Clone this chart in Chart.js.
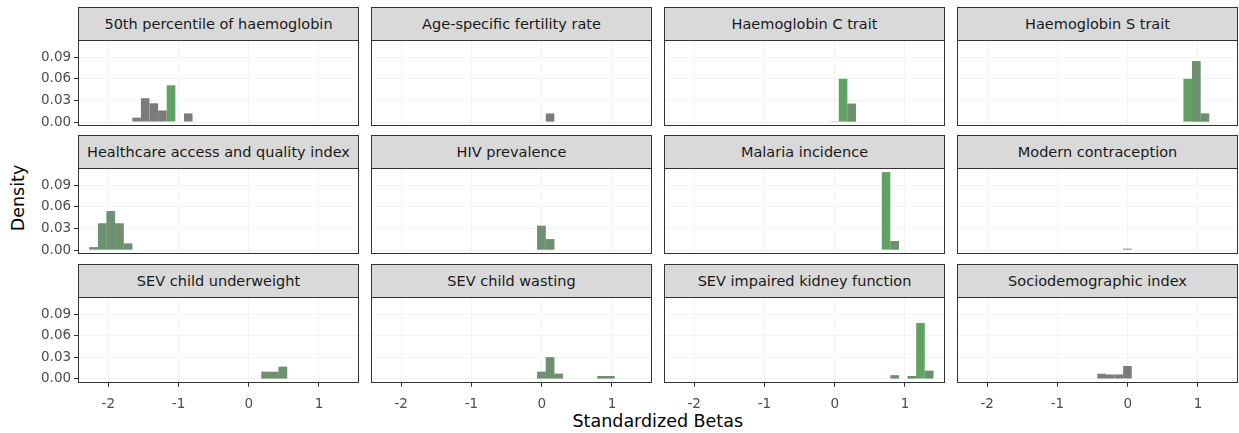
<!DOCTYPE html>
<html><head><meta charset="utf-8">
<script src="https://cdn.jsdelivr.net/npm/chart.js@4.4.0/dist/chart.umd.min.js"></script>
<style>
html,body{margin:0;padding:0;background:#fff;width:1239px;height:433px;overflow:hidden;position:relative;font-family:"DejaVu Sans",sans-serif;}
.strip{position:absolute;box-sizing:border-box;border:1px solid #333;background:#d9d9d9;color:#1a1a1a;font-size:14.5px;text-align:center;white-space:nowrap;display:flex;align-items:center;justify-content:center;}
canvas{position:absolute;}
.title{position:absolute;font-size:17.5px;color:#000;white-space:nowrap;}
</style></head><body>
<div class="title" id="ytitle">Density</div>
<div class="title" id="xtitle">Standardized Betas</div>
<script>
// histogram bin centres (standardized beta)
const binCenters = [-2.209,-2.086,-1.964,-1.841,-1.719,-1.596,-1.474,-1.351,-1.229,-1.106,-0.984,-0.861,-0.739,-0.616,-0.494,-0.371,-0.249,-0.126,-0.004,0.119,0.241,0.364,0.486,0.609,0.731,0.854,0.976,1.099,1.221,1.344,1.466];
const xTickValues = [-2,-1,0,1];
const yTickValues = [0,0.03,0.06,0.09];

const panelTitles = ["50th percentile of haemoglobin","Age-specific fertility rate","Haemoglobin C trait","Haemoglobin S trait","Healthcare access and quality index","HIV prevalence","Malaria incidence","Modern contraception","SEV child underweight","SEV child wasting","SEV impaired kidney function","Sociodemographic index"];

// density per bin, grey group and green group (overlaid)
const hb50Gray  = [0,0,0,0,0, 0.006,0.033,0.026,0.016,0, 0,0.012,0,0,0, 0,0,0,0,0, 0,0,0,0,0, 0,0,0,0,0, 0];
const hb50Green = [0,0,0,0,0, 0,0,0,0,0.051, 0,0,0,0,0, 0,0,0,0,0, 0,0,0,0,0, 0,0,0,0,0, 0];
const asfrGray  = [0,0,0,0,0, 0,0,0,0,0, 0,0,0,0,0, 0,0,0,0,0.012, 0,0,0,0,0, 0,0,0,0,0, 0];
const asfrGreen = [0,0,0,0,0, 0,0,0,0,0, 0,0,0,0,0, 0,0,0,0,0, 0,0,0,0,0, 0,0,0,0,0, 0];
const hbcGray   = [0,0,0,0,0, 0,0,0,0,0, 0,0,0,0,0, 0,0,0,0.001,0, 0.0255,0,0,0,0, 0,0,0,0,0, 0];
const hbcGreen  = [0,0,0,0,0, 0,0,0,0,0, 0,0,0,0,0, 0,0,0,0,0.060, 0.0255,0,0,0,0, 0,0,0,0,0, 0];
const hbsGray   = [0,0,0,0,0, 0,0,0,0,0, 0,0,0,0,0, 0,0,0,0,0, 0,0,0,0,0, 0,0.0845,0.012,0,0, 0];
const hbsGreen  = [0,0,0,0,0, 0,0,0,0,0, 0,0,0,0,0, 0,0,0,0,0, 0,0,0,0,0, 0.060,0.0845,0.012,0,0, 0];
const haqGray   = [0.004,0.037,0.054,0.037,0.009, 0,0,0,0,0, 0,0,0,0,0, 0,0,0,0,0, 0,0,0,0,0, 0,0,0,0,0, 0];
const haqGreen  = [0.004,0.037,0.054,0.037,0.009, 0,0,0,0,0, 0,0,0,0,0, 0,0,0,0,0, 0,0,0,0,0, 0,0,0,0,0, 0];
const hivGray   = [0,0,0,0,0, 0,0,0,0,0, 0,0,0,0,0, 0,0,0,0.0337,0.0152, 0,0,0,0,0, 0,0,0,0,0, 0];
const hivGreen  = [0,0,0,0,0, 0,0,0,0,0, 0,0,0,0,0, 0,0,0,0.0337,0.0152, 0,0,0,0,0, 0,0,0,0,0, 0];
const malGray   = [0,0,0,0,0, 0,0,0,0,0, 0,0,0,0,0, 0,0,0,0,0, 0,0,0,0,0, 0.0125,0,0,0,0, 0];
const malGreen  = [0,0,0,0,0, 0,0,0,0,0, 0,0,0,0,0, 0,0,0,0,0, 0,0,0,0,0.108, 0.0125,0,0,0,0, 0];
const mcGray    = [0,0,0,0,0, 0,0,0,0,0, 0,0,0,0,0, 0,0,0,0.002,0, 0,0,0,0,0, 0,0,0,0,0, 0];
const mcGreen   = [0,0,0,0,0, 0,0,0,0,0, 0,0,0,0,0, 0,0,0,0,0, 0,0,0,0,0, 0,0,0,0,0, 0];
const uwGray    = [0,0,0,0,0, 0,0,0,0,0, 0,0,0,0,0, 0,0,0,0,0, 0.010,0.010,0.017,0,0, 0,0,0,0,0, 0];
const uwGreen   = [0,0,0,0,0, 0,0,0,0,0, 0,0,0,0,0, 0,0,0,0,0, 0.010,0.010,0.017,0,0, 0,0,0,0,0, 0];
const wastGray  = [0,0,0,0,0, 0,0,0,0,0, 0,0,0,0,0, 0,0,0,0.010,0.030, 0.007,0,0,0,0, 0.004,0.004,0,0,0, 0];
const wastGreen = [0,0,0,0,0, 0,0,0,0,0, 0,0,0,0,0, 0,0,0,0.010,0.030, 0.007,0,0,0,0, 0.004,0.004,0,0,0, 0];
const kidGray   = [0,0,0,0,0, 0,0,0,0,0, 0,0,0,0,0, 0,0,0,0,0, 0,0,0,0,0, 0.005,0,0.004,0,0.0115, 0];
const kidGreen  = [0,0,0,0,0, 0,0,0,0,0, 0,0,0,0,0, 0,0,0,0,0, 0,0,0,0,0, 0.005,0,0.004,0.0775,0.0115, 0];
const sdiGray   = [0,0,0,0,0, 0,0,0,0,0, 0,0,0,0,0, 0.007,0.006,0.006,0.018,0, 0,0,0,0,0, 0,0,0,0,0, 0];
const sdiGreen  = [0,0,0,0,0, 0,0,0,0,0, 0,0,0,0,0, 0,0,0,0,0, 0,0,0,0,0, 0,0,0,0,0, 0];

const panelGray  = [hb50Gray,asfrGray,hbcGray,hbsGray,haqGray,hivGray,malGray,mcGray,uwGray,wastGray,kidGray,sdiGray];
const panelGreen = [hb50Green,asfrGreen,hbcGreen,hbsGreen,haqGreen,hivGreen,malGreen,mcGreen,uwGreen,wastGreen,kidGreen,sdiGreen];

// layout
const plotLeft = [78, 371, 664, 957];
const stripTop = [7, 135, 264];
const plotTop = [40, 168, 297];
const plotW = 281, plotH = 86;

Chart.defaults.font.family = "'DejaVu Sans', sans-serif";
Chart.defaults.animation = false;

const panelBorder = {
  id: 'panelBorder',
  afterDraw(chart) {
    const {ctx, chartArea: a} = chart;
    ctx.save();
    ctx.strokeStyle = '#333333';
    ctx.lineWidth = 1;
    ctx.strokeRect(Math.round(a.left) + 0.5, Math.round(a.top) + 0.5, Math.round(a.width) - 1, Math.round(a.height) - 1);
    ctx.restore();
  }
};

function toPoints(vals) { return binCenters.map((x, i) => ({x: x, y: vals[i]})); }

for (let i = 0; i < 12; i++) {
  const r = Math.floor(i / 4), c = i % 4;
  const isLeft = c === 0, isBottom = r === 2;
  const s = document.createElement('div');
  s.className = 'strip';
  s.style.left = plotLeft[c] + 'px';
  s.style.top = stripTop[r] + 'px';
  s.style.width = plotW + 'px';
  s.style.height = (plotTop[r] - stripTop[r] + 1) + 'px';
  s.textContent = panelTitles[i];
  document.body.appendChild(s);

  const cv = document.createElement('canvas');
  cv.width = 420; cv.height = 160;
  document.body.appendChild(cv);
  const tickFont = {family: "'DejaVu Sans', sans-serif", size: 13.5};
  const barStyle = {borderWidth: 0, inflateAmount: 0, grouped: false, barPercentage: 1, categoryPercentage: 1};
  const greenVals = panelGreen[i];
  const chart = new Chart(cv, {
    type: 'bar',
    data: {
      datasets: [
        // grey layer drawn on top; semi-transparent where it overlaps the green layer
        Object.assign({data: toPoints(panelGray[i]), order: 1,
          backgroundColor: ctx => (greenVals[ctx.dataIndex] > 0 ? 'rgba(125,125,125,0.5)' : 'rgb(123,123,123)')}, barStyle),
        Object.assign({data: toPoints(greenVals), order: 2, backgroundColor: 'rgb(96,162,98)'}, barStyle)
      ]
    },
    options: {
      responsive: false,
      maintainAspectRatio: false,
      animation: false,
      layout: {padding: 0},
      plugins: {legend: {display: false}, tooltip: {enabled: false}},
      scales: {
        x: {
          type: 'linear', min: -2.43, max: 1.57, offset: false,
          afterBuildTicks: sc => { sc.ticks = xTickValues.map(v => ({value: v})); },
          ticks: {display: isBottom, color: '#4d4d4d', font: tickFont, padding: 10, maxRotation: 0, autoSkip: false, callback: v => String(v)},
          grid: {offset: false, color: '#f3f3f3', lineWidth: 1, drawTicks: isBottom, tickLength: 4, tickColor: '#333333'},
          border: {display: false}
        },
        y: {
          type: 'linear', min: -0.0054, max: 0.1137,
          afterBuildTicks: sc => { sc.ticks = yTickValues.map(v => ({value: v})); },
          ticks: {display: isLeft, color: '#4d4d4d', font: tickFont, padding: 3, autoSkip: false, callback: v => Number(v).toFixed(2)},
          grid: {color: '#f3f3f3', lineWidth: 1, drawTicks: isLeft, tickLength: 4, tickColor: '#333333'},
          border: {display: false}
        }
      }
    },
    plugins: [panelBorder]
  });
  for (let k = 0; k < 3; k++) {
    const a = chart.chartArea;
    const nw = Math.round(chart.width - a.width + plotW);
    const nh = Math.round(chart.height - a.height + plotH);
    if (nw !== chart.width || nh !== chart.height) chart.resize(nw, nh);
  }
  const a = chart.chartArea;
  cv.style.left = Math.round(plotLeft[c] - a.left) + 'px';
  cv.style.top = Math.round(plotTop[r] - a.top) + 'px';
}

const yt = document.getElementById('ytitle');
yt.style.left = (18 - yt.offsetWidth / 2) + 'px';
yt.style.top = (198 - yt.offsetHeight / 2) + 'px';
yt.style.transform = 'rotate(-90deg)';
const xt = document.getElementById('xtitle');
xt.style.left = (658 - xt.offsetWidth / 2) + 'px';
xt.style.top = (421 - xt.offsetHeight / 2) + 'px';
</script>
</body></html>
